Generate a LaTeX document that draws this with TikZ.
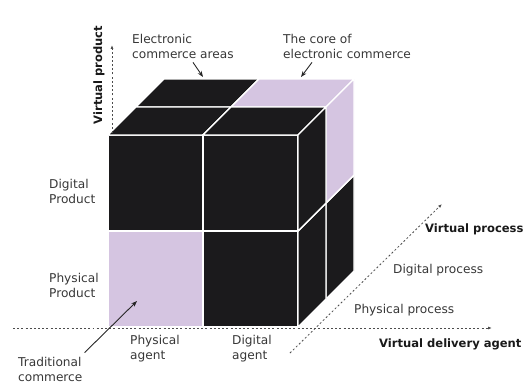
\documentclass[tikz,border=0pt]{standalone}
\usepackage{fontspec}
\setmainfont{DejaVu Sans}
\usepackage{xcolor}
\usepackage{tikz}
\usetikzlibrary{arrows.meta, positioning, calc}
\definecolor{lilac}{RGB}{213,197,225}
\definecolor{cubeblack}{RGB}{27,26,28}
\definecolor{darktext}{RGB}{55,55,55}
\tikzset{
    cubelet/.style={draw=white, line width=1.4pt, line join=round},
    axis/.style={dash pattern=on 2pt off 2.2pt, gray!60!black, line width=0.8pt, -{Latex[length=4pt, width=3pt]}},
    txt/.style={align=left, inner sep=0pt, text=darktext},
    axislabel/.style={font=\fontsize{11.6}{14}\selectfont\bfseries, inner sep=0pt, text=black!90},
    callout/.style={-{Stealth[length=6pt, width=4.5pt]}, line width=0.9pt, black!85},
}

\begin{document}
\begin{tikzpicture}[x=1bp, y=-1bp, font=\fontsize{12.2}{15}\selectfont]
    \useasboundingbox (0,0) rectangle (530,385);

    % 2x2x2 cube, painted back to front
    \foreach \k in {1,0} {
      \foreach \j in {0,1} {
        \foreach \i in {0,1} {
          \pgfmathsetmacro\bx{108+95*\i+28*\k}
          \pgfmathsetmacro\by{327-96*\j-28*\k}
          \pgfmathtruncatemacro\s{\i+\j+\k}
          \ifnum\s=0 \def\col{lilac}\else\ifnum\s=3 \def\col{lilac}\else\def\col{cubeblack}\fi\fi
          \draw[cubelet, fill=\col] (\bx,\by) -- ++(95,0) -- ++(0,-96) -- ++(-95,0) -- cycle;
          \draw[cubelet, fill=\col] (\bx,\by-96) -- ++(95,0) -- ++(28,-28) -- ++(-95,0) -- cycle;
          \draw[cubelet, fill=\col] (\bx+95,\by) -- ++(28,-28) -- ++(0,-96) -- ++(-28,28) -- cycle;
        }
      }
    }

    % axes
    \coordinate (origin) at (112,133);
    \coordinate (prodend) at (112,45);
    \coordinate (agentstart) at (13,328);
    \coordinate (agentend) at (492,328);
    \coordinate (procstart) at (290,353);
    \coordinate (procend) at (442,204);
    \draw[axis] (origin) -- (prodend);
    \draw[axis] (agentstart) -- (agentend);
    \draw[axis] (procstart) -- (procend);

    \node[axislabel, rotate=90] (vprod) at (99,75) {Virtual product};
    \node[axislabel, anchor=west] (vproc) at (425,229) {Virtual process};
    \node[axislabel, anchor=west] (vdel) at (379,344) {Virtual delivery agent};

    % labels
    \node[txt, anchor=west] (digprod) at (49,191) {Digital\\Product};
    \node[txt, anchor=west] (physprod) at (49,285) {Physical\\Product};
    \node[txt, anchor=west] (physagent) at (130,349) {Physical\\agent};
    \node[txt, anchor=west] (digagent) at (232,349) {Digital\\agent};
    \node[txt, anchor=west] (digproc) at (393,270) {Digital process};
    \node[txt, anchor=west] (physproc) at (354,310) {Physical process};
    \node[txt, anchor=west] (trad) at (18,369) {Traditional\\commerce};
    \node[txt, anchor=west] (ecarea) at (132,46) {Electronic\\commerce areas};
    \node[txt, anchor=west] (ecore) at (283,46) {The core of\\electronic commerce};

    % callouts
    \coordinate (ecareatip) at (203,77);
    \coordinate (ecoretip) at (301,77);
    \coordinate (tradtip) at (137,301);
    \draw[callout] ([xshift=61bp, yshift=-4bp]ecarea.south west) -- (ecareatip);
    \draw[callout] ([xshift=29bp, yshift=-4bp]ecore.south west) -- (ecoretip);
    \draw[callout] ([xshift=2bp, yshift=4bp]trad.north east) -- (tradtip);
\end{tikzpicture}
\end{document}
